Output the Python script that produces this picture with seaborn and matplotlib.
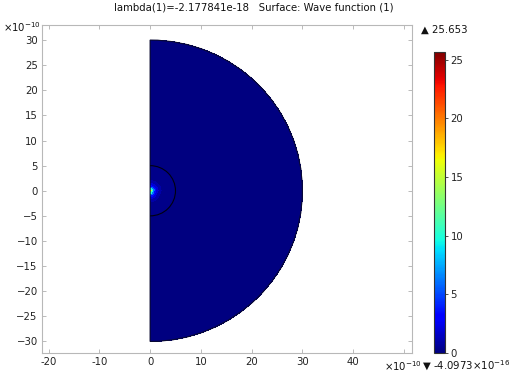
import matplotlib
matplotlib.use('Agg')
import matplotlib.pyplot as plt
from matplotlib.patches import Arc, Wedge
import numpy as np
import seaborn as sns

TITLE = 'lambda(1)=-2.177841e-18   Surface: Wave function (1)'

# radial profile of the surface (radius in 1e-10 m), one value per ring
RING_EDGES = [0, 0.3, 0.6, 0.9, 1.2, 1.6, 2.2, 5.0, 30.0]
RING_VALUES = [15.0, 10.0, 6.0, 3.5, 2.0, 1.0, 0.3, 0.0]
MESH_RADIUS = 5.0
DOMAIN_RADIUS = 30.0

X_TICKS = [-20, -10, 0, 10, 20, 30, 40, 50]
X_LABELS = ['-20', '-10', '0', '10', '20', '30', '40', '']
Y_TICKS = list(range(-30, 31, 5))
CBAR_TICKS = [0, 5, 10, 15, 20, 25]
V_MAX = 25.653
V_MIN_LABEL = '\u25bc -4.0973\u00d710$^{-16}$'
V_MAX_LABEL = '\u25b2 25.653'

W, H = 512, 377
FS = 7.3


def main():
    sns.set_theme(style='white')
    plt.rcParams['font.family'] = ['DejaVu Sans']
    fig = plt.figure(figsize=(W / 100, H / 100), dpi=100)
    ax = fig.add_axes([42 / W, 1 - 353 / H, 370 / W, 328 / H])

    cmap = matplotlib.colormaps['jet']
    theta = np.linspace(-np.pi / 2, np.pi / 2, 361)
    R, T = np.meshgrid(RING_EDGES, theta)
    C = np.tile(RING_VALUES, (len(theta) - 1, 1))
    mesh = ax.pcolormesh(R * np.cos(T), R * np.sin(T), C, cmap=cmap,
                         vmin=0, vmax=V_MAX, shading='flat',
                         edgecolors='none', linewidth=0,
                         antialiased=False, snap=False)

    ax.add_patch(Wedge((0, 0), DOMAIN_RADIUS, -90, 90, fill=False,
                       edgecolor='#0a0a30', linewidth=0.8))
    ax.add_patch(Arc((0, 0), 2 * MESH_RADIUS, 2 * MESH_RADIUS, theta1=-90,
                     theta2=90, edgecolor='#000010', linewidth=0.8))

    ax.set_xlim(-21.3, 51.6)
    ax.set_ylim(-32.3, 33.0)
    ax.set_xticks(X_TICKS)
    ax.set_xticklabels(X_LABELS)
    ax.set_yticks(Y_TICKS)
    ax.tick_params(direction='in', length=3, width=0.6, color='#b0b0b0',
                   labelsize=FS, labelcolor='#222222', pad=3,
                   top=True, right=True, bottom=True, left=True)
    for s in ax.spines.values():
        s.set_color('#b8b8b8')
        s.set_linewidth(0.8)
    ax.grid(False)

    cax = fig.add_axes([434 / W, 1 - 353 / H, 11 / W, 301 / H])
    cb = fig.colorbar(mesh, cax=cax, ticks=CBAR_TICKS)
    cb.outline.set_edgecolor('#333333')
    cb.outline.set_linewidth(0.8)
    cax.tick_params(direction='out', length=2, width=0.6, color='#333333',
                    labelsize=FS, labelcolor='#222222', pad=2)

    fig.text(253.7 / W, 1 - 7.5 / H, TITLE, ha='center', va='center',
             fontsize=FS, color='#111111')
    fig.text(421 / W, 1 - 29.5 / H, V_MAX_LABEL, ha='left', va='center',
             fontsize=FS, color='#111111')
    fig.text(422 / W, 1 - 366 / H, V_MIN_LABEL, ha='left', va='center',
             fontsize=FS, color='#111111')
    fig.text(3 / W, 1 - 27 / H, '\u00d710$^{-10}$', ha='left', va='center',
             fontsize=FS, color='#111111')
    fig.text(384 / W, 1 - 366 / H, '\u00d710$^{-10}$', ha='left', va='center',
             fontsize=FS, color='#111111')

    fig.savefig('out.png', dpi=100)
    plt.close(fig)


if __name__ == '__main__':
    main()
